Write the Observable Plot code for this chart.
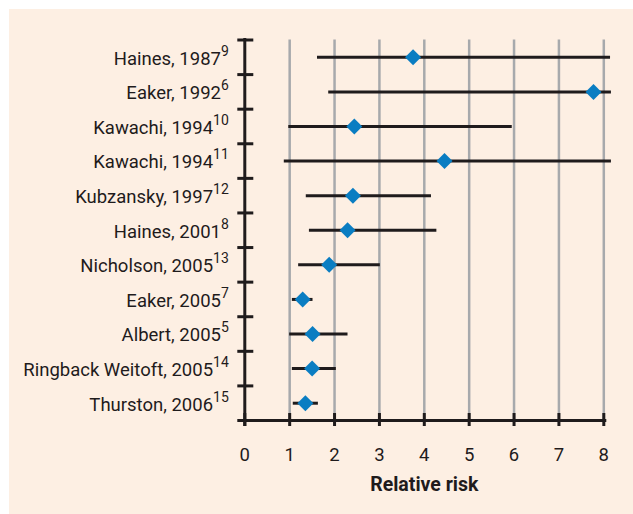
<!DOCTYPE html>
<html><head><meta charset="utf-8">
<script src="https://cdn.jsdelivr.net/npm/d3@7"></script>
<script src="https://cdn.jsdelivr.net/npm/@observablehq/plot@0.6"></script>
<style>
html,body{margin:0;padding:0;background:#fff;}
#panel{position:absolute;left:9px;top:9px;width:624px;height:505px;background:#fdefe3;}
#panel svg{display:block;}
</style></head><body><div id="panel"></div>
<script>
const studies = ["Haines, 1987", "Eaker, 1992", "Kawachi, 1994", "Kawachi, 1994", "Kubzansky, 1997", "Haines, 2001", "Nicholson, 2005", "Eaker, 2005", "Albert, 2005", "Ringback Weitoft, 2005", "Thurston, 2006"];
const refs = [9, 6, 10, 11, 12, 8, 13, 7, 5, 14, 15];
const estimate = [3.75, 7.77, 2.44, 4.45, 2.41, 2.29, 1.88, 1.29, 1.51, 1.50, 1.35];
const lower = [1.62, 1.87, 0.98, 0.88, 1.37, 1.44, 1.20, 1.06, 1.00, 1.06, 1.08];
const upper = [8.15, 8.17, 5.96, 8.17, 4.16, 4.28, 3.02, 1.52, 2.30, 2.04, 1.64];
const xTicks = [0, 1, 2, 3, 4, 5, 6, 7, 8];
const xLabel = "Relative risk";

const n = studies.length;
const data = studies.map((s, i) => ({study: s, ref: refs[i], row: i + 0.5, est: estimate[i], lo: lower[i], hi: upper[i]}));
const rowCenters = data.map(d => d.row);
const rowTops = data.map((d, i) => i);
const ink = "#1f1b1c";

const chart = Plot.plot({
  width: 624, height: 505,
  marginLeft: 235.3, marginRight: 29.7, marginTop: 30.5, marginBottom: 94,
  style: {background: "transparent", fontFamily: "Roboto, sans-serif", fontSize: "18.5px", color: ink},
  x: {domain: [xTicks[0], xTicks[xTicks.length - 1]]},
  y: {domain: [0, n], reverse: true},
  marks: [
    Plot.ruleX(xTicks.filter(t => t > 0), {y1: 0, y2: n, stroke: "#a7a9ac", strokeWidth: 2.5}),
    Plot.ruleX(xTicks, {y1: n, y2: n, insetTop: -7, insetBottom: -6, stroke: ink, strokeWidth: 3}),
    Plot.ruleY([n], {x1: xTicks[0], x2: xTicks[xTicks.length - 1], insetLeft: -7, insetRight: -3, stroke: ink, strokeWidth: 3}),
    Plot.ruleX([0], {y1: 0, y2: n, insetTop: -1.5, insetBottom: -6, stroke: ink, strokeWidth: 3}),
    Plot.ruleY(rowTops, {x1: 0, x2: 0, insetLeft: -7, insetRight: -9, stroke: ink, strokeWidth: 3}),
    Plot.ruleY(data, {y: "row", x1: "lo", x2: "hi", stroke: ink, strokeWidth: 3}),
    Plot.dot(data, {x: "est", y: "row", symbol: "diamond2", r: 7.2, fill: "#0a7dc2", stroke: "none"}),
    Plot.axisY(rowCenters, {tickSize: 0, tickPadding: 16, dy: 1.5, fontSize: 18.5, label: null,
      tickFormat: v => `${studies[Math.floor(v)]}|${refs[Math.floor(v)]}`}),
    Plot.axisX(xTicks, {tickSize: 0, tickPadding: 27, fontSize: 18.5, label: null, tickFormat: d => String(d)}),
    Plot.text([xLabel], {frameAnchor: "bottom", dy: 70, fontWeight: "bold", fontSize: 19.5, fill: ink})
  ]
});

d3.select(chart).selectAll("text").each(function () {
  const t = d3.select(this);
  const s = t.text();
  if (s.includes("|")) {
    const [main, sup] = s.split("|");
    t.text(main);
    t.append("tspan").attr("dy", -9).attr("font-size", 14).text(sup);
  }
});

document.getElementById("panel").appendChild(chart);
</script></body></html>
